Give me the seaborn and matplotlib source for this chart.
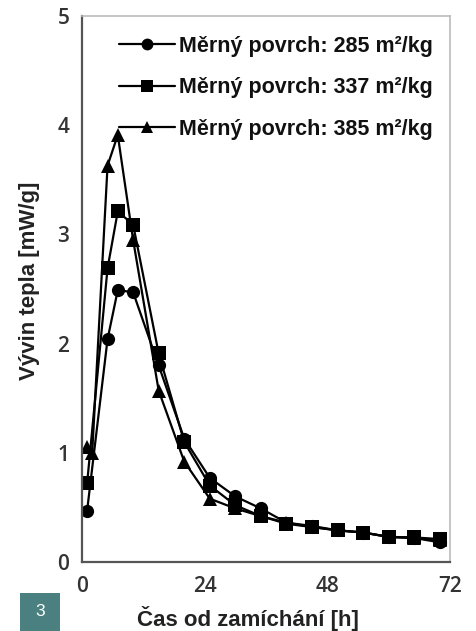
import matplotlib
matplotlib.use("Agg")
import matplotlib.pyplot as plt
import seaborn as sns
import pandas as pd
from matplotlib.patches import Rectangle
from matplotlib.ticker import MultipleLocator

# --- data ---
t_285 = [1, 5, 7, 10, 15, 20, 25, 30, 35, 40, 45, 50, 55, 60, 65, 70]
q_285 = [0.47, 2.04, 2.49, 2.47, 1.80, 1.13, 0.77, 0.60, 0.49, 0.36, 0.33, 0.29, 0.27, 0.23, 0.22, 0.18]
t_337 = [1, 5, 7, 10, 15, 20, 25, 30, 35, 40, 45, 50, 55, 60, 65, 70]
q_337 = [0.72, 2.69, 3.21, 3.09, 1.91, 1.10, 0.70, 0.52, 0.42, 0.35, 0.32, 0.29, 0.27, 0.23, 0.225, 0.21]
t_385 = [1, 2, 5, 7, 10, 15, 20, 25, 30, 35, 40, 45, 50, 55, 60, 65, 70]
q_385 = [1.05, 1.00, 3.63, 3.91, 2.95, 1.57, 0.92, 0.58, 0.49, 0.42, 0.36, 0.32, 0.29, 0.27, 0.23, 0.22, 0.20]
labels = ["Měrný povrch: 285 m²/kg", "Měrný povrch: 337 m²/kg", "Měrný povrch: 385 m²/kg"]
x_ticks = [0, 24, 48, 72]
y_ticks = [0, 1, 2, 3, 4, 5]
x_label = "Čas od zamíchání [h]"
y_label = "Vývin tepla [mW/g]"
badge = "3"

df = pd.concat([
    pd.DataFrame({"t": t_285, "q": q_285, "s": labels[0]}),
    pd.DataFrame({"t": t_337, "q": q_337, "s": labels[1]}),
    pd.DataFrame({"t": t_385, "q": q_385, "s": labels[2]}),
])

sns.set_style("white")
plt.rcParams['font.family'] = ['Liberation Sans', 'DejaVu Sans']

fig = plt.figure(figsize=(4.76, 6.31), dpi=100)
ax = fig.add_axes([82/476, 1-562/631, (450-82)/476, (562-16)/631])

sns.lineplot(data=df, x="t", y="q", style="s", style_order=labels,
             markers=["o", "s", "^"], dashes=False, color="black",
             linewidth=1.6, markersize=9.5, markeredgewidth=0,
             ax=ax, sort=False, estimator=None)

ax.set_xlim(0, 72)
ax.set_ylim(0, 5)
ax.set_xticks(x_ticks)
ax.set_yticks(y_ticks)
ax.xaxis.set_minor_locator(MultipleLocator(12))
ax.yaxis.set_minor_locator(MultipleLocator(0.5))
ax.tick_params(which="both", direction="in", length=5, width=1.2, color="#555555",
               labelsize=15, labelcolor="#333333")
ax.tick_params(axis="y", pad=9)
ax.tick_params(axis="x", pad=10)
for lab in ax.get_xticklabels() + ax.get_yticklabels():
    lab.set_family(["Open Sans", "DejaVu Sans"])
    lab.set_fontweight("semibold")

for side in ["left", "bottom"]:
    ax.spines[side].set_color("#555555")
    ax.spines[side].set_linewidth(1.6)
for side in ["right", "top"]:
    ax.spines[side].set_color("#bbbbbb")
    ax.spines[side].set_linewidth(1.2)

ax.set_xlabel(x_label, fontsize=16, fontweight="bold", color="#222222")
ax.set_ylabel(y_label, fontsize=16, fontweight="bold", color="#222222")
ax.xaxis.set_label_coords((248 - 82) / 368, (562 - 606) / 546)
ax.yaxis.set_label_coords((40 - 82) / 368, (562 - 281) / 546)

leg = ax.legend(loc="upper right", bbox_to_anchor=((433-82)/368, (562-36)/546),
                frameon=False, fontsize=15.5, handlelength=2.6, handletextpad=0.2,
                labelspacing=0.95, borderaxespad=0, borderpad=0)
for txt in leg.get_texts():
    txt.set_fontweight("bold")
    txt.set_color("#111111")
for h in leg.legend_handles:
    h.set_markersize(8.5)

fig.patches.append(Rectangle((20/476, 0), 40/476, 38/631, transform=fig.transFigure,
                             facecolor="#4a8080", edgecolor="none"))
fig.text(40/476, 19/631, badge, ha="center", va="center", color="white", fontsize=12.5,
         family=["Liberation Sans", "DejaVu Sans"])

fig.savefig("out.png", dpi=100)
